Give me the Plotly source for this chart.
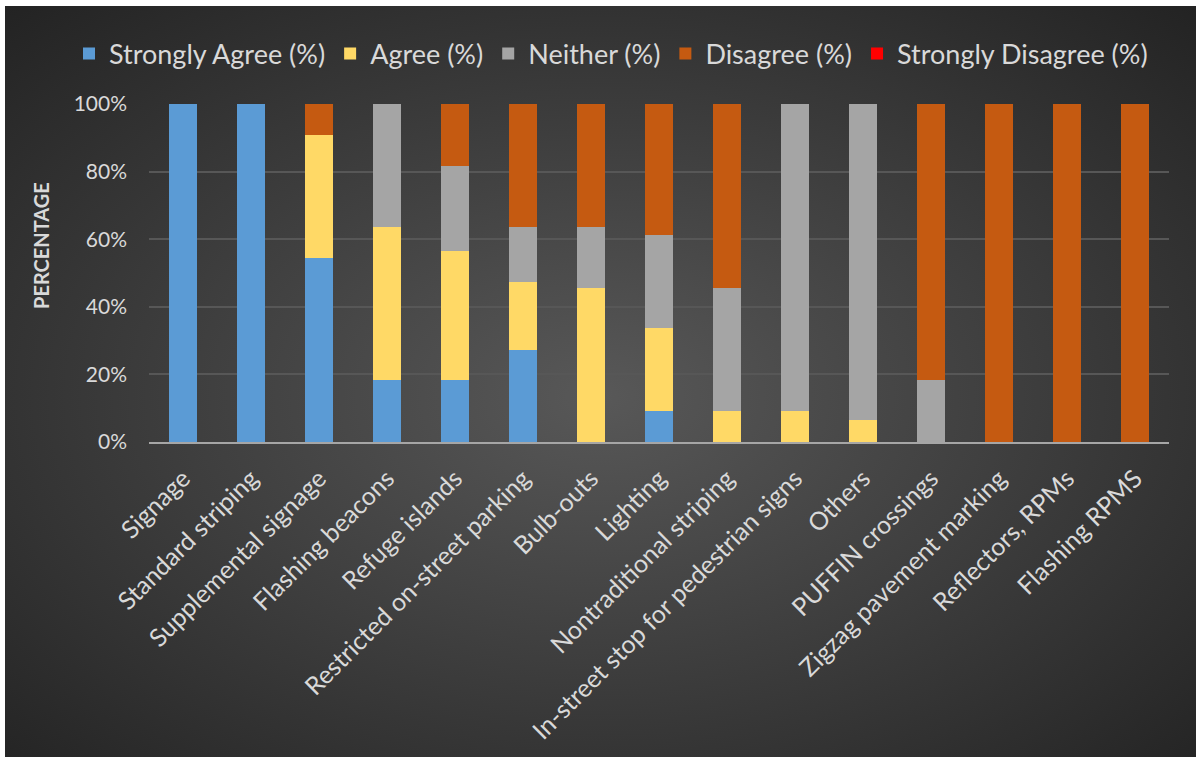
import base64
import plotly.graph_objects as go

categories = [
    "Signage", "Standard striping", "Supplemental signage", "Flashing beacons",
    "Refuge islands", "Restricted on-street parking", "Bulb-outs", "Lighting",
    "Nontraditional striping", "In-street stop for pedestrian signs", "Others",
    "PUFFIN crossings", "Zigzag pavement marking", "Reflectors, RPMs", "Flashing RPMS",
]

strongly_agree = [100, 100, 54.5, 18.2, 18.2, 27.3, 0, 9.1, 0, 0, 0, 0, 0, 0, 0]
agree = [0, 0, 36.4, 45.4, 38.3, 20.0, 45.5, 24.7, 9.1, 9.1, 6.5, 0, 0, 0, 0]
neither = [0, 0, 0, 36.4, 25.3, 16.3, 18.1, 27.5, 36.4, 90.9, 93.5, 18.2, 0, 0, 0]
disagree = [0, 0, 9.1, 0, 18.2, 36.4, 36.4, 38.7, 54.5, 0, 0, 81.8, 100, 100, 100]
strongly_disagree = [0] * 15

series_names = ["Strongly Agree (%)", "Agree (%)", "Neither (%)", "Disagree (%)",
                "Strongly Disagree (%)"]
series_values = [strongly_agree, agree, neither, disagree, strongly_disagree]
series_colors = ["#5B9BD5", "#FFD966", "#A5A5A5", "#C55A11", "#FF0000"]

y_tick_vals = [0, 20, 40, 60, 80, 100]
y_tick_text = ["0%", "20%", "40%", "60%", "80%", "100%"]

FONT = "Lato, 'Noto Sans', sans-serif"
TXT = "#D9D9D9"

fig = go.Figure()
for name, vals, col in zip(series_names, series_values, series_colors):
    fig.add_trace(go.Bar(
        x=categories, y=vals, name=name,
        marker=dict(color=col, line=dict(width=0)),
    ))

# radial gradient background as svg image
svg = (
    '<svg xmlns="http://www.w3.org/2000/svg" width="1191" height="751" '
    'preserveAspectRatio="none" viewBox="0 0 1191 751">'
    '<defs><radialGradient id="g" cx="50%" cy="52%" r="72%">'
    '<stop offset="0%" stop-color="#585858"/>'
    '<stop offset="100%" stop-color="#232323"/>'
    '</radialGradient></defs>'
    '<rect x="0" y="0" width="1191" height="751" fill="url(#g)"/></svg>'
)
src = "data:image/svg+xml;base64," + base64.b64encode(svg.encode()).decode()

L, R, T, B = 149, 1169, 104, 442
W, H = R - L, B - T

def px_x(p):
    return (p - L) / W

def px_y(p):
    return (B - p) / H

fig.add_layout_image(dict(
    source=src, xref="paper", yref="paper",
    x=px_x(5), y=px_y(6), sizex=px_x(1196) - px_x(5), sizey=px_y(6) - px_y(757),
    xanchor="left", yanchor="top", sizing="stretch", layer="below",
))

fig.add_annotation(
    text="<b>PERCENTAGE</b>", xref="paper", yref="paper",
    x=px_x(41), y=px_y(246), textangle=-90, showarrow=False,
    xanchor="center", yanchor="middle",
    font=dict(size=20, color=TXT, family=FONT),
)

fig.update_layout(
    width=1196, height=759,
    margin=dict(l=L, r=1196 - R, t=T, b=759 - B, autoexpand=False),
    paper_bgcolor="white",
    plot_bgcolor="rgba(0,0,0,0)",
    barmode="stack",
    bargap=0.59,
    font=dict(family=FONT, color=TXT),
    legend=dict(
        orientation="h", x=px_x(69), xanchor="left", y=px_y(54), yanchor="middle",
        font=dict(size=27, color=TXT, family=FONT),
        bgcolor="rgba(0,0,0,0)", traceorder="normal",
        itemsizing="constant",
    ),
    xaxis=dict(
        tickangle=-45, tickfont=dict(size=25, color=TXT, family=FONT),
        showgrid=False, showline=True, linecolor="#A6A6A6", linewidth=2,
        ticks="", zeroline=False, ticklabelstandoff=10,
    ),
    yaxis=dict(
        range=[0, 100], tickvals=y_tick_vals, ticktext=y_tick_text,
        tickfont=dict(size=21, color=TXT, family=FONT),
        showgrid=True, gridcolor="#575757", gridwidth=2,
        zeroline=False, showline=False, ticks="", ticklen=0,
        ticklabelstandoff=21,
    ),
)

fig.write_html("out.html", config={"displayModeBar": False},
               post_script="document.body.style.margin='0px';")
